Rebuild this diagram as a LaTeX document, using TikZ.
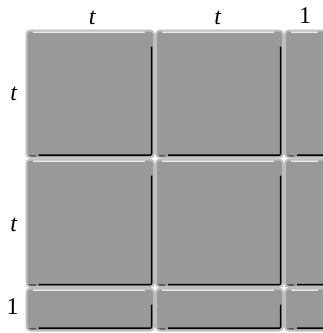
\documentclass[tikz,border=0pt]{standalone}
\usepackage{fontspec}
\setmainfont{Liberation Serif}
\begin{document}
\begin{tikzpicture}[x=1pt,y=-1pt,
  tile/.style={rectangle, inner sep=0pt, outer sep=0pt, anchor=north west,
    fill=tilegray, draw=rimgray, line width=2pt, rounded corners=4pt,
    path picture={
      \draw[black, line width=1.3pt, rounded corners=1pt]
        ([xshift=12pt,yshift=2.4pt]path picture bounding box.south west)
        -- ([xshift=-2.4pt,yshift=2.4pt]path picture bounding box.south east)
        -- ([xshift=-2.4pt,yshift=-16pt]path picture bounding box.north east);
      \draw[white!85!gray, line width=1.2pt]
        ([xshift=6pt,yshift=-1.5pt]path picture bounding box.north west)
        -- ([xshift=-9pt,yshift=-1.5pt]path picture bounding box.north east);
      \draw[gray!70!black, line width=2pt]
        ([xshift=1pt,yshift=2pt]path picture bounding box.south west)
        -- ([xshift=9pt,yshift=2pt]path picture bounding box.south west);
    }},
  lab/.style={inner sep=0pt, font=\fontsize{24}{28}\selectfont}]
\definecolor{tilegray}{HTML}{999999}
\definecolor{rimgray}{HTML}{BEBEBE}
\useasboundingbox (0,0) rectangle (323,333);
\clip (0,0) rectangle (323,333);
\node[tile, minimum width=127.5pt, minimum height=127pt] (a11) at (26.5,30.5) {};
\node[tile, minimum width=127pt, minimum height=127pt] (a12) at (156,30.5) {};
\node[tile, minimum width=42pt, minimum height=127pt] (a13) at (285,30.5) {};
\node[tile, minimum width=127.5pt, minimum height=127.5pt] (a21) at (26.5,159.5) {};
\node[tile, minimum width=127pt, minimum height=127.5pt] (a22) at (156,159.5) {};
\node[tile, minimum width=42pt, minimum height=127.5pt] (a23) at (285,159.5) {};
\node[tile, minimum width=127.5pt, minimum height=42pt] (a31) at (26.5,288.5) {};
\node[tile, minimum width=127pt, minimum height=42pt] (a32) at (156,288.5) {};
\node[tile, minimum width=42pt, minimum height=42pt] (a33) at (285,288.5) {};
\node[lab] (c1) at (92.5,17.5) {\textit{t}};
\node[lab] (c2) at (218,18) {\textit{t}};
\node[lab] (c3) at (305,15.7) {1};
\node[lab] (r1) at (14,93.5) {\textit{t}};
\node[lab] (r2) at (14,225) {\textit{t}};
\node[lab] (r3) at (12.7,306.5) {1};
\end{tikzpicture}
\end{document}
